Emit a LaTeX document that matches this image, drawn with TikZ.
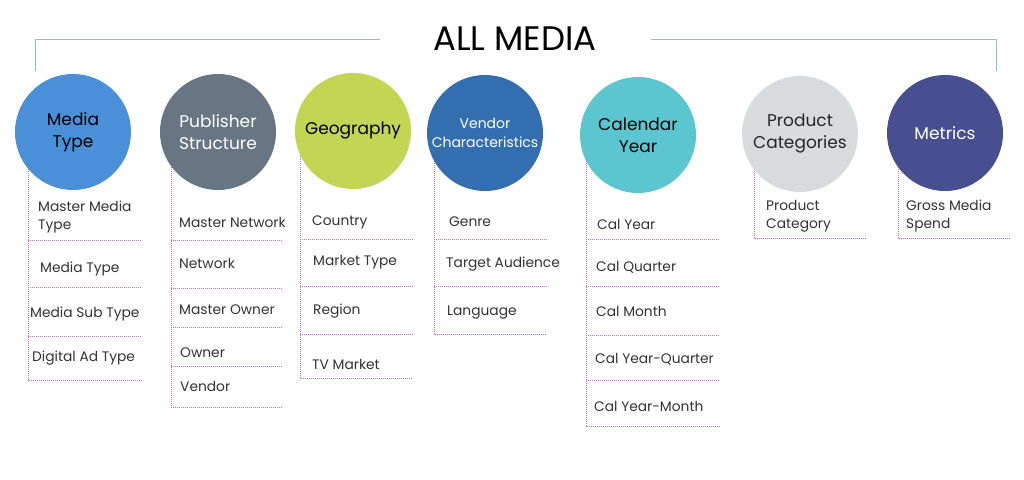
\documentclass[tikz,border=0pt]{standalone}
\usepackage{fontspec}
\setmainfont{Poppins}
\definecolor{mediablue}{RGB}{74,144,217}
\definecolor{slate}{RGB}{104,118,131}
\definecolor{lime}{RGB}{194,214,84}
\definecolor{vendorblue}{RGB}{51,111,176}
\definecolor{calteal}{RGB}{91,198,208}
\definecolor{lightgray}{RGB}{216,219,222}
\definecolor{indigo}{RGB}{71,79,145}
\definecolor{ruleteal}{RGB}{124,202,210}
\definecolor{sepmag}{RGB}{192,112,200}
\definecolor{itemgray}{RGB}{51,51,51}
\begin{document}
\begin{tikzpicture}[x=1pt,y=-1pt]
			\tikzstyle{every node}+=[inner sep=0pt]
			\tikzstyle{topic}=[circle,minimum size=116pt,align=center,font=\fontsize{17}{22}\selectfont]
			\tikzstyle{item}=[anchor=west,align=left,text=itemgray,font=\fontsize{13.8}{18}\selectfont]
			\tikzstyle{sep}=[draw=sepmag,line width=0.9pt,dash pattern=on 1pt off 1pt]
			\tikzstyle{rule}=[draw=ruleteal,line width=0.9pt]
			\useasboundingbox (0,0) rectangle (1024,479);
			\fill [white] (0,0) rectangle (1024,479);
			\draw (515,39) node (title) {\fontsize{34}{38}\selectfont ALL MEDIA};
			\coordinate (ruleL) at (35,71);
			\coordinate (ruleR) at (996,71);
			\draw [rule] ([xshift=-53pt]title.west) -| (ruleL);
			\draw [rule] ([xshift=54pt]title.east) -| (ruleR);
			% media type list
			\draw [sep] (28,131) -- (28,380) -- (142,380);
			\foreach \y in {240,287,336}
				\draw [sep] (28,\y) -- (142,\y);
			\draw (38,217) node [item] (mastermediatype) {Master Media\\Type};
			\draw (40,269) node [item] (mediatypeitem) {Media Type};
			\draw (30,314) node [item] (mediasubtype) {Media Sub Type};
			\draw (32,358) node [item] (digitaladtype) {Digital Ad Type};
			% publisher list
			\draw [sep] (171,131) -- (171,407) -- (283,407);
			\foreach \y in {240,288,327,366}
				\draw [sep] (171,\y) -- (283,\y);
			\draw (179,222) node [item] (masternetwork) {Master Network};
			\draw (179,263) node [item] (network) {Network};
			\draw (179,310) node [item] (masterowner) {Master Owner};
			\draw (180,353) node [item] (owner) {Owner};
			\draw (180,386) node [item] (vendoritem) {Vendor};
			% geography list
			\draw [sep] (300,131) -- (300,378) -- (413,378);
			\foreach \y in {239,286,334}
				\draw [sep] (300,\y) -- (413,\y);
			\draw (312,222) node [item] (country) {Country};
			\draw (313,262) node [item] (markettype) {Market Type};
			\draw (313,311) node [item] (region) {Region};
			\draw (312,364) node [item] (tvmarket) {TV Market};
			% vendor list
			\draw [sep] (434,131) -- (434,334) -- (547,334);
			\foreach \y in {239,286}
				\draw [sep] (434,\y) -- (547,\y);
			\draw (449,222) node [item] (genre) {Genre};
			\draw (446,264) node [item] (audience) {Target Audience};
			\draw (447,313) node [item] (language) {Language};
			% calendar list
			\draw [sep] (586,131) -- (586,426) -- (720,426);
			\foreach \y in {239,286,335,380}
				\draw [sep] (586,\y) -- (720,\y);
			\draw (597,224) node [item] (calyear) {Cal Year};
			\draw (596,267) node [item] (calquarter) {Cal Quarter};
			\draw (596,311) node [item] (calmonth) {Cal Month};
			\draw (595,359) node [item] (calyearquarter) {Cal Year-Quarter};
			\draw (594,406) node [item] (calyearmonth) {Cal Year-Month};
			% product list
			\draw [sep] (754,131) -- (754,238) -- (866,238);
			\draw (766,216) node [item] (productcategory) {Product\\Category};
			% metrics list
			\draw [sep] (898,131) -- (898,238) -- (1010,238);
			\draw (906,216) node [item] (grossspend) {Gross Media\\Spend};
			% topic circles
			\draw (73,132) node [topic,fill=mediablue,text=black] (mediatype) {Media\\Type};
			\draw (218,132) node [topic,fill=slate,text=white] (publisher) {Publisher\\Structure};
			\draw (353,131) node [topic,fill=lime,text=black] (geography) {Geography};
			\draw (485,133) node [topic,fill=vendorblue,text=white,font=\fontsize{14}{19}\selectfont] (vendor) {Vendor\\Characteristics};
			\draw (638,135) node [topic,fill=calteal,text=black] (calendar) {Calendar\\Year};
			\draw (800,134) node [topic,fill=lightgray,text=black!85] (product) {Product\\Categories};
			\draw (945,133) node [topic,fill=indigo,text=white] (metrics) {Metrics};
\end{tikzpicture}
\end{document}
